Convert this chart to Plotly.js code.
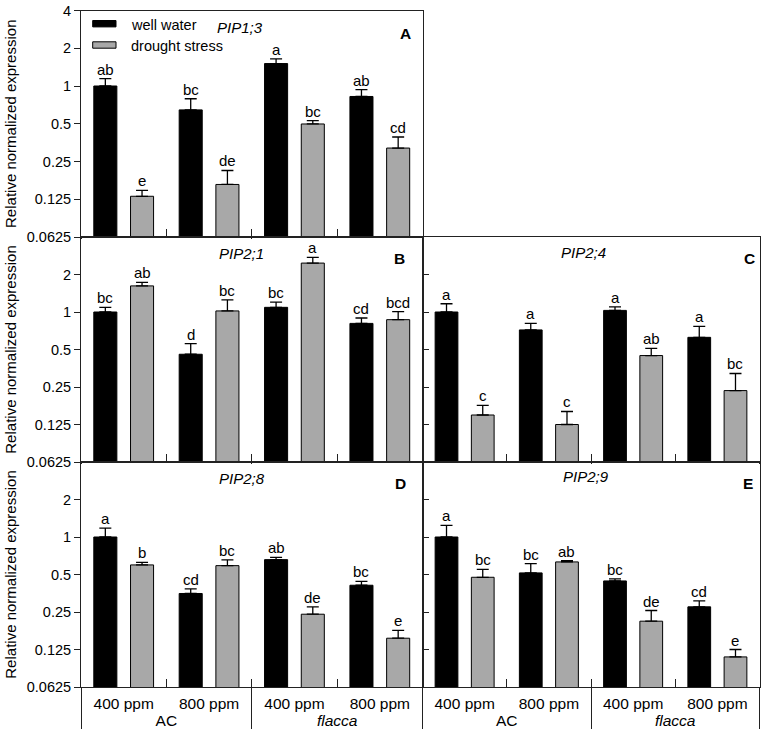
<!DOCTYPE html>
<html>
<head>
<meta charset="utf-8">
<script src="https://cdn.plot.ly/plotly-3.0.1.min.js"></script>
<style>html,body{margin:0;padding:0;background:#fff;}#chart{width:767px;height:739px;}</style>
</head>
<body>
<div id="chart"></div>
<script>
// ---- data ----
const genotypes = ['AC', 'AC', 'flacca', 'flacca'];
const co2Levels = ['400 ppm', '800 ppm', '400 ppm', '800 ppm'];
const genes = ['PIP1;3', 'PIP2;1', 'PIP2;4', 'PIP2;8', 'PIP2;9'];
const panelLetters = ['A', 'B', 'C', 'D', 'E'];
const seriesNames = ['well water', 'drought stress'];
const yTickVals = [0.0625, 0.125, 0.25, 0.5, 1, 2, 4];
const yTickText = ['0.0625', '0.125', '0.25', '0.5', '1', '2', '4'];

const pip13Well = [1.0, 0.645, 1.51, 0.825];
const pip13WellErr = [0.145, 0.146, 0.137, 0.109];
const pip13Drought = [0.132, 0.164, 0.498, 0.32];
const pip13DroughtErr = [0.015, 0.048, 0.032, 0.072];
const pip13WellSig = ['ab', 'bc', 'a', 'ab'];
const pip13DroughtSig = ['e', 'de', 'bc', 'cd'];

const pip21Well = [1.0, 0.458, 1.09, 0.81];
const pip21WellErr = [0.09, 0.099, 0.11, 0.085];
const pip21Drought = [1.62, 1.02, 2.47, 0.868];
const pip21DroughtErr = [0.11, 0.23, 0.27, 0.138];
const pip21WellSig = ['bc', 'd', 'bc', 'cd'];
const pip21DroughtSig = ['ab', 'bc', 'a', 'bcd'];

const pip24Well = [1.0, 0.718, 1.03, 0.626];
const pip24WellErr = [0.165, 0.092, 0.07, 0.141];
const pip24Drought = [0.149, 0.125, 0.447, 0.234];
const pip24DroughtErr = [0.029, 0.034, 0.064, 0.087];
const pip24WellSig = ['a', 'a', 'a', 'a'];
const pip24DroughtSig = ['c', 'c', 'ab', 'bc'];

const pip28Well = [1.0, 0.352, 0.658, 0.41];
const pip28WellErr = [0.18, 0.032, 0.029, 0.031];
const pip28Drought = [0.597, 0.589, 0.24, 0.154];
const pip28DroughtErr = [0.029, 0.065, 0.035, 0.024];
const pip28WellSig = ['a', 'cd', 'ab', 'bc'];
const pip28DroughtSig = ['b', 'bc', 'de', 'e'];

const pip29Well = [1.0, 0.515, 0.444, 0.275];
const pip29WellErr = [0.238, 0.096, 0.017, 0.032];
const pip29Drought = [0.475, 0.631, 0.211, 0.109];
const pip29DroughtErr = [0.075, 0.015, 0.046, 0.016];
const pip29WellSig = ['a', 'bc', 'bc', 'cd'];
const pip29DroughtSig = ['bc', 'ab', 'de', 'e'];

// ---- layout helpers ----
const W = 767, H = 739;
const FONT = 'Liberation Sans, Arial, sans-serif';
const px = v => v / W;
const py = v => 1 - v / H;
const BAR_W = 0.27, BAR_SHIFT = 0.215;
const xLeft = [px(81), px(422.5)];
const xRight = [px(422.5), px(759.5)];
const rows = [[py(237), py(10.5)], [py(462), py(237)], [py(687), py(462)]];

const panels = [
  {well: pip13Well, wErr: pip13WellErr, dr: pip13Drought, dErr: pip13DroughtErr, wSig: pip13WellSig, dSig: pip13DroughtSig, xd: xLeft, yd: rows[0], left: true, bottom: false, top4: true},
  {well: pip21Well, wErr: pip21WellErr, dr: pip21Drought, dErr: pip21DroughtErr, wSig: pip21WellSig, dSig: pip21DroughtSig, xd: xLeft, yd: rows[1], left: true, bottom: false},
  {well: pip24Well, wErr: pip24WellErr, dr: pip24Drought, dErr: pip24DroughtErr, wSig: pip24WellSig, dSig: pip24DroughtSig, xd: xRight, yd: rows[1], left: false, bottom: false},
  {well: pip28Well, wErr: pip28WellErr, dr: pip28Drought, dErr: pip28DroughtErr, wSig: pip28WellSig, dSig: pip28DroughtSig, xd: xLeft, yd: rows[2], left: true, bottom: true},
  {well: pip29Well, wErr: pip29WellErr, dr: pip29Drought, dErr: pip29DroughtErr, wSig: pip29WellSig, dSig: pip29DroughtSig, xd: xRight, yd: rows[2], left: false, bottom: true}
];
const labelPos = [
  {gx: 240, gy: 27, lx: 405.5, ly: 33},
  {gx: 241.5, gy: 254, lx: 399.5, ly: 258},
  {gx: 583, gy: 252, lx: 749, ly: 258},
  {gx: 242, gy: 478, lx: 400, ly: 483},
  {gx: 585.5, gy: 476, lx: 748, ly: 483}
];

const xCats = [genotypes.map(g => g === 'flacca' ? '<i>flacca</i>' : g), co2Levels];
const traces = [];
const layout = {
  width: W, height: H,
  margin: {l: 0, r: 0, t: 0, b: 0},
  paper_bgcolor: '#fff', plot_bgcolor: '#fff',
  showlegend: false, barmode: 'overlay',
  font: {family: FONT, size: 14.5, color: '#000'},
  annotations: [], shapes: []
};

panels.forEach((p, k) => {
  const sfx = k === 0 ? '' : String(k + 1);
  const xa = 'x' + sfx, ya = 'y' + sfx;
  const mk = (vals, errs, color, off, name) => ({
    type: 'bar', x: xCats, y: vals, name: name,
    xaxis: xa, yaxis: ya, width: BAR_W, offset: off,
    marker: {color: color, line: {color: '#000', width: 1}},
    error_y: {type: 'data', symmetric: false, array: errs, arrayminus: errs.map(() => 0),
              color: '#000', thickness: 1.3, width: 6},
    hoverinfo: 'y'
  });
  traces.push(mk(p.well, p.wErr, '#000000', -BAR_SHIFT - BAR_W / 2, seriesNames[0]));
  traces.push(mk(p.dr, p.dErr, '#a8a8a8', BAR_SHIFT - BAR_W / 2, seriesNames[1]));

  layout['xaxis' + sfx] = {
    type: 'multicategory', domain: p.xd, anchor: ya,
    showline: true, mirror: true, linecolor: '#222', linewidth: 1,
    ticks: 'inside', ticklen: 8, tickcolor: '#222', tickson: 'boundaries',
    showgrid: false, zeroline: false, fixedrange: true,
    showticklabels: p.bottom, showdividers: true, dividercolor: '#222', dividerwidth: 1,
    ticklabelstandoff: 2,
    tickfont: {family: FONT, size: 15.5, color: '#000'}
  };
  const tv = p.top4 ? yTickVals : yTickVals.slice(0, 6);
  const tt = p.top4 ? yTickText : yTickText.slice(0, 6);
  layout['yaxis' + sfx] = {
    type: 'log', domain: p.yd, anchor: xa,
    range: [Math.log10(0.0625), Math.log10(4)],
    showline: true, mirror: true, linecolor: '#222', linewidth: 1,
    tickvals: tv, ticktext: tt,
    ticks: p.left ? 'outside' : 'inside', ticklen: 6, tickcolor: '#222',
    showticklabels: p.left, showgrid: false, zeroline: false, fixedrange: true,
    tickfont: {family: FONT, size: 14.5, color: '#000'},
    title: p.left ? {text: 'Relative normalized expression', font: {family: FONT, size: 15, color: '#000'}, standoff: 6} : {text: ''}
  };

  // significance letters
  const addSig = (vals, errs, sigs, dx) => {
    vals.forEach((v, i) => {
      layout.annotations.push({
        xref: xa + ' domain', yref: ya,
        x: (i + 0.5 + dx) / 4, y: Math.log10(v + errs[i]),
        text: sigs[i], showarrow: false, xanchor: 'center', yanchor: 'bottom',
        yshift: -1, font: {family: FONT, size: 15, color: '#000'}
      });
    });
  };
  addSig(p.well, p.wErr, p.wSig, -BAR_SHIFT);
  addSig(p.dr, p.dErr, p.dSig, BAR_SHIFT);

  const lp = labelPos[k];
  layout.annotations.push({xref: 'paper', yref: 'paper', x: px(lp.gx), y: py(lp.gy), xanchor: 'center', yanchor: 'middle',
    text: '<i>' + genes[k] + '</i>', showarrow: false, font: {family: FONT, size: 15, color: '#000'}});
  layout.annotations.push({xref: 'paper', yref: 'paper', x: px(lp.lx), y: py(lp.ly), xanchor: 'center', yanchor: 'middle',
    text: '<b>' + panelLetters[k] + '</b>', showarrow: false, font: {family: FONT, size: 15.5, color: '#000'}});
});

// legend (drawn inside panel A)
const legendRows = [{y: 23.7, ty: 25, color: '#000000'}, {y: 45, ty: 46, color: '#a8a8a8'}];
legendRows.forEach((r, i) => {
  layout.shapes.push({type: 'rect', xref: 'paper', yref: 'paper', x0: px(92.7), x1: px(116), y0: py(r.y + 3.2), y1: py(r.y - 3.2),
    fillcolor: r.color, line: {color: '#000', width: 1}});
  layout.annotations.push({xref: 'paper', yref: 'paper', x: px(128.5), y: py(r.ty), xanchor: 'left', yanchor: 'middle',
    text: seriesNames[i], showarrow: false, font: {family: FONT, size: 14.5, color: '#000'}});
});

Plotly.newPlot('chart', traces, layout, {displayModeBar: false, staticPlot: true});
</script>
</body>
</html>
